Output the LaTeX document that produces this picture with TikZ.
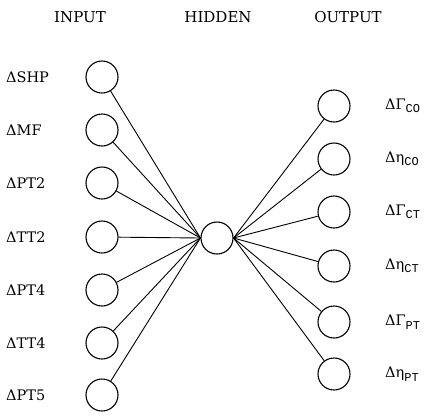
\documentclass[tikz,border=0pt]{standalone}
\usepackage{fontspec}
\setmainfont{DejaVu Serif}
\newfontfamily\submono{Liberation Mono}
\newcommand{\lowidx}[1]{\raisebox{-3.5pt}{\submono\fontsize{12}{12}\selectfont #1}}
\begin{document}
\begin{tikzpicture}[x=1pt,y=-1pt,
  unit/.style={circle,draw,line width=1.1pt,minimum size=32pt,inner sep=0pt},
  title/.style={font=\fontsize{15}{15}\selectfont},
  inlab/.style={font=\fontsize{14.5}{14.5}\selectfont,anchor=west,inner sep=0pt},
  outlab/.style={font=\fontsize{14.5}{14.5}\selectfont,anchor=west,inner sep=0pt},
  link/.style={line width=0.9pt}]
\useasboundingbox (0,0) rectangle (430,416);
% layer titles
\node[title] (tin) at (80,17) {INPUT};
\node[title] (thid) at (218,17) {HIDDEN};
\node[title] (tout) at (348,17) {OUTPUT};
% hidden unit
\node[unit] (h) at (217,238) {};
% input units and their labels
\foreach \n/\y/\t in {i1/77/ΔSHP, i2/130/ΔMF, i3/183/ΔPT2, i4/237/ΔTT2, i5/290/ΔPT4, i6/343/ΔTT4, i7/395/ΔPT5}{
  \node[unit] (\n) at (102,\y) {};
  \node[inlab] (\n l) at (6,\y) {\t};
  \draw[link] (\n) -- (h.west);
}
% output units and their labels
\foreach \n/\y/\t in {o1/106/ΔΓ\lowidx{CO}, o2/159/Δη\lowidx{CO}, o3/212/ΔΓ\lowidx{CT}, o4/266/Δη\lowidx{CT}, o5/322/ΔΓ\lowidx{PT}, o6/374/Δη\lowidx{PT}}{
  \node[unit] (\n) at (334,\y) {};
  \node[outlab] (\n l) at (385,\y) {\t};
  \draw[link] (h.east) -- (\n);
}
\end{tikzpicture}
\end{document}
